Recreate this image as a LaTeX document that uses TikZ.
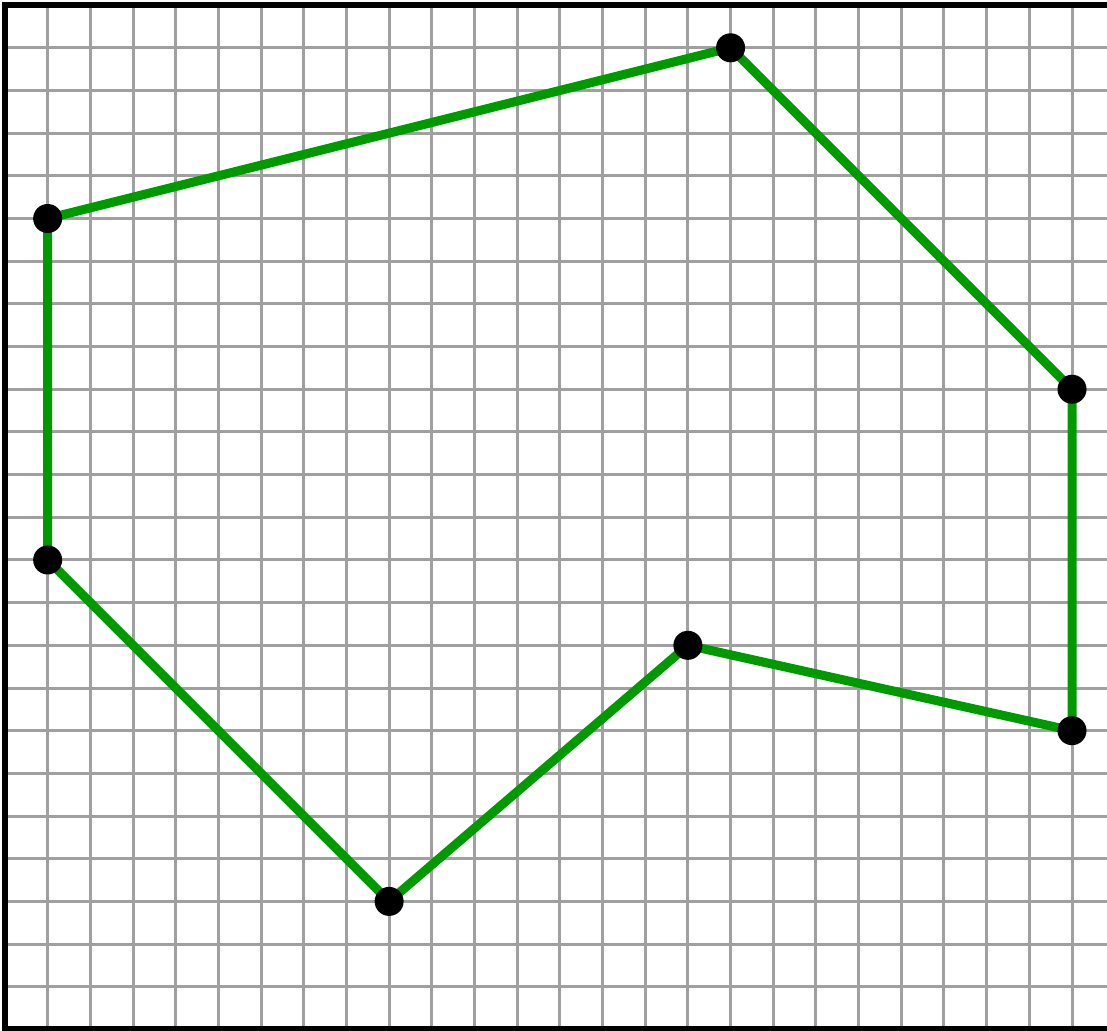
\documentclass[tikz,border=0pt]{standalone}
\definecolor{lineGreen}{RGB}{0,153,0}
\definecolor{gridGray}{RGB}{160,160,160}
\pgfdeclarelayer{gridlayer}
\pgfdeclarelayer{edgelayer}
\pgfsetlayers{gridlayer,edgelayer,main}
\begin{document}
\begin{tikzpicture}[
  gridline/.style={draw=gridGray, line width=2pt},
  frameline/.style={draw=black, line width=4.2pt},
  edge/.style={draw=lineGreen, line width=6pt},
  dot/.style={circle, fill=black, inner sep=0pt, minimum size=0.68cm}
]
\useasboundingbox (-0.117,-0.023) rectangle (25.82,24.12);
\clip (-0.117,-0.023) rectangle (25.82,24.12);
\begin{pgfonlayer}{gridlayer}
\foreach \x in {1,...,25} \draw[gridline] (\x,0) -- (\x,24);
\foreach \y in {1,...,23} \draw[gridline] (0,\y) -- (26,\y);
\draw[frameline] (0,0) rectangle (26,24);
\end{pgfonlayer}
\node[dot] (A) at (1,19) {};
\node[dot] (B) at (17,23) {};
\node[dot] (C) at (25,15) {};
\node[dot] (D) at (25,7) {};
\node[dot] (E) at (16,9) {};
\node[dot] (F) at (9,3) {};
\node[dot] (G) at (1,11) {};
\begin{pgfonlayer}{edgelayer}
\draw[edge] (A.center) -- (B.center) -- (C.center) -- (D.center) -- (E.center) -- (F.center) -- (G.center) -- cycle;
\end{pgfonlayer}
\end{tikzpicture}
\end{document}
